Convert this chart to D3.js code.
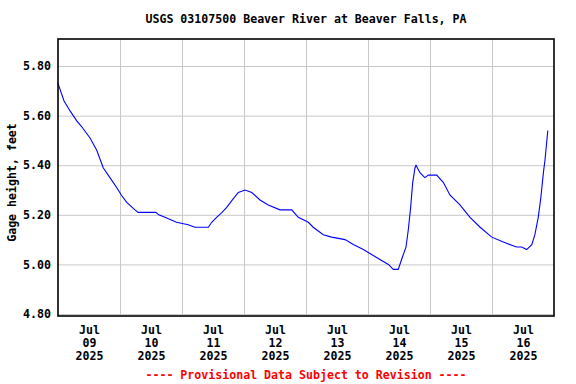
<!DOCTYPE html>
<meta charset="utf-8">
<style>
body { margin: 0; background: #fff; }
text { font-family: "DejaVu Sans Mono", monospace; font-weight: bold; font-size: 11.6px; }
.grid line { stroke: #c8c8c8; }
.grid path { stroke: none; }
</style>
<body>
<svg width="576" height="384"></svg>
<script src="https://d3js.org/d3.v7.min.js"></script>
<script>

// hours after Jul 09 2025 00:00, gage height in feet
var hours = [0, 2.3, 4.6, 7.2, 9.2, 12.4, 15, 17.5, 20.1, 22.7, 24.5, 26.6, 29.8, 31, 37.9, 39, 41.4, 45.9,
  50.4, 53, 58.2, 59.5, 61.4, 63.5, 65.3, 67.5, 69.8, 72.4, 75, 78.2, 81.4, 85.9, 90.5, 93, 96.9, 98.8,
  102.7, 105.9, 111.1, 114.3, 118.2, 121.4, 124.6, 127.9, 129.8, 131.7, 133, 134.7, 135.6, 136.5, 137.3,
  138.2, 138.6, 140.1, 142, 143.4, 146.6, 149.2, 151.7, 155.6, 159.5, 163.4, 167.9, 172.4, 177.5, 179.5,
  181.4, 183.4, 184.6, 185.9, 186.8, 187.9, 188.5, 189.6];
var gage = [5.73, 5.66, 5.62, 5.58, 5.555, 5.51, 5.46, 5.39, 5.35, 5.31, 5.28, 5.25, 5.22, 5.21, 5.21, 5.20, 5.19, 5.17,
  5.16, 5.15, 5.15, 5.17, 5.19, 5.21, 5.23, 5.26, 5.29, 5.30, 5.29, 5.26, 5.24, 5.22, 5.22, 5.19, 5.17, 5.15,
  5.12, 5.11, 5.10, 5.08, 5.06, 5.04, 5.02, 5.00, 4.98, 4.98, 5.02, 5.07, 5.14, 5.23, 5.33,
  5.39, 5.40, 5.37, 5.35, 5.36, 5.36, 5.33, 5.28, 5.24, 5.19, 5.15, 5.11, 5.09, 5.07, 5.07,
  5.06, 5.08, 5.12, 5.19, 5.26, 5.37, 5.42, 5.54];

var yTicks = [4.8, 5.0, 5.2, 5.4, 5.6, 5.8];
var dayLabels = ["09", "10", "11", "12", "13", "14", "15", "16"];
var title = "USGS 03107500 Beaver River at Beaver Falls, PA";
var yTitle = "Gage height, feet";
var note = "---- Provisional Data Subject to Revision ----";

var svg = d3.select("svg");
var pLeft = 58, pRight = 554, pTop = 39, pBottom = 316;

var start = new Date(2025, 6, 9);
var x = d3.scaleTime()
    .domain([start, d3.timeDay.offset(start, 8)])
    .range([pLeft, pRight]);
var y = d3.scaleLinear()
    .domain([4.792, 5.909])
    .range([pBottom, pTop]);

// grid
svg.append("g")
    .attr("class", "grid")
    .attr("transform", "translate(0," + pBottom + ")")
    .call(d3.axisBottom(x)
        .tickValues(d3.range(1, 8).map(function(i) { return d3.timeDay.offset(start, i); }))
        .tickSize(-(pBottom - pTop)).tickFormat(""));
svg.append("g")
    .attr("class", "grid")
    .attr("transform", "translate(" + pLeft + ",0)")
    .call(d3.axisLeft(y).tickValues(yTicks).tickSize(-(pRight - pLeft)).tickFormat(""));

// data line
var line = d3.line()
    .x(function(d, i) { return x(d3.timeMinute.offset(start, Math.round(hours[i] * 60))); })
    .y(function(d) { return y(d); });
svg.append("path")
    .datum(gage)
    .attr("d", line)
    .attr("fill", "none")
    .attr("stroke", "#0000ff")
    .attr("stroke-width", 1.1);

// frame
svg.append("rect")
    .attr("x", pLeft).attr("y", pTop)
    .attr("width", pRight - pLeft).attr("height", pBottom - pTop)
    .attr("fill", "none").attr("stroke", "#000").attr("stroke-width", 1.6);

// y axis labels
var ya = svg.append("g")
    .attr("transform", "translate(" + pLeft + ",0)")
    .call(d3.axisLeft(y).tickValues(yTicks).tickSize(0).tickPadding(7).tickFormat(d3.format(".2f")));
ya.select(".domain").remove();
ya.selectAll("text").attr("fill", "#000");
ya.attr("font-family", null).attr("font-size", null);

// x axis labels at noon
var xa = svg.append("g")
    .attr("transform", "translate(0," + pBottom + ")")
    .call(d3.axisBottom(x)
        .tickValues(d3.range(8).map(function(i) { return d3.timeHour.offset(start, i * 24 + 12); }))
        .tickSize(0).tickFormat(""));
xa.select(".domain").remove();
xa.attr("font-family", null).attr("font-size", null);
xa.selectAll(".tick").each(function(d, i) {
  var t = d3.select(this).append("text").attr("fill", "#000").attr("text-anchor", "middle");
  ["Jul", dayLabels[i], "2025"].forEach(function(s, k) {
    t.append("tspan").attr("x", 0).attr("y", 18 + k * 13).text(s);
  });
});

svg.append("text")
    .attr("x", (pLeft + pRight) / 2).attr("y", 23)
    .attr("text-anchor", "middle")
    .text(title);

svg.append("text")
    .attr("transform", "translate(16," + ((pTop + pBottom) / 2 + 5) + ") rotate(-90)")
    .attr("text-anchor", "middle")
    .text(yTitle);

svg.append("text")
    .attr("x", (pLeft + pRight) / 2).attr("y", 379)
    .attr("text-anchor", "middle")
    .attr("fill", "#ff0000")
    .text(note);

</script>
</body>
</html>
